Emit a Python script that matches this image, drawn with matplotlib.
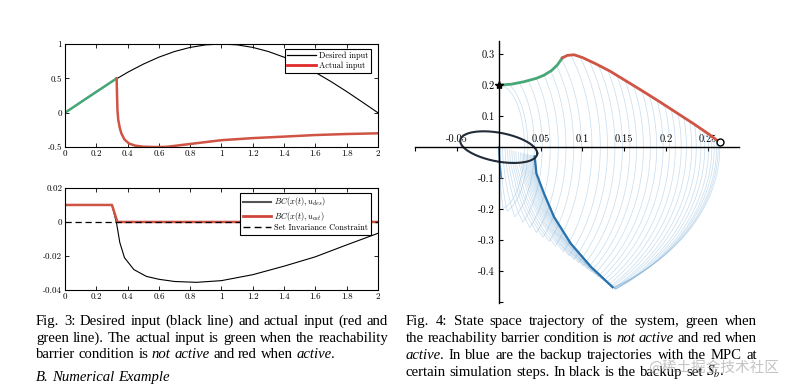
import numpy as np
import matplotlib.pyplot as plt
from matplotlib.lines import Line2D

plt.rcParams['mathtext.fontset'] = 'cm'
plt.rcParams['axes.unicode_minus'] = False

# ---------------- Fig. 3 (top): desired vs actual input ----------------
t_des = [0, 0.1, 0.2, 0.3, 0.4, 0.5, 0.6, 0.7, 0.8, 0.9, 1.0,
         1.1, 1.2, 1.3, 1.4, 1.5, 1.6, 1.7, 1.8, 1.9, 2.0]
u_des = [0, 0.156, 0.309, 0.454, 0.588, 0.707, 0.809, 0.891, 0.951, 0.988, 1.0,
         0.988, 0.951, 0.891, 0.809, 0.707, 0.588, 0.454, 0.309, 0.156, 0.0]
t_free = [0, 0.33]
u_free = [0, 0.5]
t_act = [0.33, 0.332, 0.335, 0.34, 0.35, 0.36, 0.38, 0.41, 0.45, 0.5, 0.58,
         0.65, 0.8, 1.0, 1.2, 1.4, 1.6, 1.8, 2.0]
u_act = [0.5, 0.3, 0.05, -0.1, -0.22, -0.3, -0.39, -0.45, -0.48, -0.495, -0.5,
         -0.497, -0.455, -0.4, -0.37, -0.348, -0.325, -0.31, -0.3]

# ---------------- Fig. 3 (bottom): barrier condition ----------------
t_bc_des = [0, 0.3, 0.33, 0.35, 0.38, 0.44, 0.52, 0.6, 0.7, 0.84, 1.0,
            1.2, 1.4, 1.6, 1.8, 2.0]
bc_des = [0.01, 0.01, -0.001, -0.012, -0.021, -0.028, -0.032, -0.0337, -0.035,
          -0.0355, -0.0345, -0.031, -0.026, -0.0205, -0.0135, -0.0067]
t_bc_act = [0, 0.3, 0.335, 2.0]
bc_act = [0.01, 0.01, 0.0, 0.0]

# ---------------- Fig. 4: state space ----------------
green_x = [0.0, 0.015, 0.03, 0.045, 0.054, 0.063, 0.07, 0.076]
green_y = [0.2, 0.203, 0.211, 0.222, 0.232, 0.247, 0.265, 0.288]
red_x = [0.076, 0.082, 0.09, 0.1, 0.115, 0.133, 0.153, 0.173, 0.193, 0.213, 0.233, 0.252, 0.264]
red_y = [0.288, 0.296, 0.298, 0.289, 0.27, 0.245, 0.212, 0.179, 0.145, 0.11, 0.075, 0.04, 0.015]
# last backup trajectory (dark blue), bottom -> top
last_x = [0.136, 0.11, 0.086, 0.066, 0.054, 0.045, 0.043]
last_y = [-0.452, -0.386, -0.311, -0.225, -0.149, -0.085, -0.03]
# where the backup trajectories leave the system trajectory, and their shape ratio
backup_x0 = [0.0, 0.012, 0.024, 0.035, 0.045, 0.054, 0.062, 0.069, 0.075,
             0.086, 0.097, 0.108, 0.119, 0.13, 0.141, 0.151, 0.161, 0.171, 0.18,
             0.189, 0.198, 0.206, 0.214, 0.221, 0.228, 0.234, 0.24, 0.245, 0.25,
             0.254, 0.257, 0.26, 0.262, 0.264]
backup_ratio = [6.5, 6.2, 5.9, 5.6, 5.3, 5.0, 4.8, 4.6, 4.4,
                4.2, 4.0, 3.85, 3.7, 3.55, 3.4, 3.28, 3.16, 3.05, 2.95,
                2.85, 2.76, 2.68, 2.6, 2.52, 2.45, 2.38, 2.32, 2.26, 2.2,
                2.15, 2.1, 2.06, 2.03, 2.0]
corner_a = (0.05, -0.284)
corner_b = (0.137, -0.452)
# backup set S_b
ell_rx, ell_ry, ell_skew = 0.046, 0.047, 0.02

green = '#47a877'
red = '#cf5444'
dblue = '#2a72ad'
lblue = '#7fb0d6'
cm = 'cmr10'

fig = plt.figure(figsize=(7.94, 3.88), dpi=100)

# --- top-left
ax1 = fig.add_axes([0.0819, 0.621, 0.394, 0.2655])
ax1.plot(t_des, u_des, color='black', lw=0.8)
ax1.plot(t_free, u_free, color=green, lw=1.8)
ax1.plot(t_act, u_act, color=red, lw=1.8)
ax1.set_xlim(0, 2)
ax1.set_ylim(-0.5, 1)
ax1.set_xticks(np.arange(0, 2.01, 0.2))
ax1.set_xticklabels(['0', '0.2', '0.4', '0.6', '0.8', '1', '1.2', '1.4', '1.6', '1.8', '2'],
                    fontfamily=cm, fontsize=6.5)
ax1.set_yticks([-0.5, 0, 0.5, 1])
ax1.set_yticklabels(['-0.5', '0', '0.5', '1'], fontfamily=cm, fontsize=6.5)
h1 = [Line2D([], [], color='black', lw=0.9), Line2D([], [], color='#e02a2a', lw=2)]
leg = ax1.legend(h1, ['Desired input', 'Actual input'], loc='upper right',
                 bbox_to_anchor=(0.978, 0.951), prop={'family': cm, 'size': 6},
                 fancybox=False, framealpha=1, edgecolor='black', handlelength=3.4,
                 borderpad=0.3, labelspacing=0.2, handletextpad=0.4, borderaxespad=0)
leg.get_frame().set_linewidth(0.8)

# --- bottom-left
ax2 = fig.add_axes([0.0819, 0.2526, 0.394, 0.263])
ax2.plot(t_bc_des, bc_des, color='black', lw=0.8)
ax2.plot(t_bc_act, bc_act, color=red, lw=1.8)
ax2.axhline(0, color='black', lw=0.9, ls=(0, (5, 3)))
ax2.set_xlim(0, 2)
ax2.set_ylim(-0.04, 0.02)
ax2.set_xticks(np.arange(0, 2.01, 0.2))
ax2.set_xticklabels(['0', '0.2', '0.4', '0.6', '0.8', '1', '1.2', '1.4', '1.6', '1.8', '2'],
                    fontfamily=cm, fontsize=6.5)
ax2.set_yticks([-0.04, -0.02, 0, 0.02])
ax2.set_yticklabels(['-0.04', '-0.02', '0', '0.02'], fontfamily=cm, fontsize=6.5)
h2 = [Line2D([], [], color='#555555', lw=1.5), Line2D([], [], color='#d0453a', lw=2),
      Line2D([], [], color='black', lw=1, ls=(0, (5, 3)))]
leg2 = ax2.legend(h2, [r'$BC(x(t), u_{des})$', r'$BC(x(t), u_{act})$', 'Set Invariance Constraint'],
                  loc='upper right', bbox_to_anchor=(0.978, 0.951), prop={'family': cm, 'size': 6},
                  fancybox=False, framealpha=1, edgecolor='black', handlelength=3.4,
                  borderpad=0.3, labelspacing=0.15, handletextpad=0.4, borderaxespad=0)
leg2.get_frame().set_linewidth(0.8)

for ax in (ax1, ax2):
    ax.tick_params(direction='in', top=True, right=True, length=3, width=0.6, pad=2)
    for s in ax.spines.values():
        s.set_linewidth(0.8)

# --- right: state space
ax3 = fig.add_axes([0.5227, 0.219, 0.408, 0.675])
traj_x = green_x + red_x[1:]
traj_y = green_y + red_y[1:]


def locus(x):
    slope = (corner_b[1] - corner_a[1]) / (corner_b[0] - corner_a[0])
    return corner_a[1] + slope * (x - corner_a[0])


last_dx = np.array(last_x) - last_x[0]
last_dy = np.array(last_y) - last_y[0]
rel_x = last_dx / last_dx[-1]
rel_y = last_dy / last_dy[-1]

corners = []
arcs = []
for x0, r in zip(backup_x0, backup_ratio):
    y0 = np.interp(x0, traj_x, traj_y)
    A = np.hypot(x0, y0 / r)
    B = r * A
    s0 = np.arctan2(y0 / B, x0 / A)
    s = np.linspace(s0, -np.pi / 2, 800)
    px, py = A * np.cos(s), B * np.sin(s)
    below = py < locus(px)
    i = np.argmax(below) if below.any() else len(s) - 1
    arcs.append((px[:i + 1], py[:i + 1]))
    corners.append((px[i], py[i]))

c_first = corners[0][0]
for (px, py), (cx, cy) in zip(arcs, corners):
    k = np.clip((cx - c_first) / (corner_b[0] - c_first), 0, 1)
    ex, ey = last_x[-1] * k, last_y[-1] * k
    rx = cx + rel_x * (ex - cx)
    ry = cy + rel_y * (ey - cy)
    ax3.plot(np.r_[px, rx], np.r_[py, ry], color=lblue, lw=0.55, alpha=0.4,
             solid_joinstyle='round')

ax3.plot([0, 0.001, 0.003], [0, -0.05, -0.1], color=dblue, lw=1.2, alpha=0.8)
ax3.plot(last_x, last_y, color=dblue, lw=1.6)

te = np.linspace(0, 2 * np.pi, 200)
ax3.plot(ell_rx * np.cos(te), ell_ry * np.sin(te) - ell_skew * np.cos(te),
         color='#222b38', lw=1.5)

ax3.plot(green_x, green_y, color=green, lw=2, solid_joinstyle='round')
ax3.plot(red_x, red_y, color=red, lw=2, solid_joinstyle='round')
ax3.plot(green_x[0], green_y[0], marker='*', color='black', ms=6, zorder=5)
ax3.plot(red_x[-1], red_y[-1], marker='o', mfc='white', mec='black', mew=1, ms=5, zorder=5)

ax3.set_xlim(-0.1, 0.287)
ax3.set_ylim(-0.503, 0.342)
ax3.spines['bottom'].set_visible(False)
ax3.spines['right'].set_visible(False)
ax3.spines['top'].set_position(('data', 0))
ax3.spines['left'].set_position(('data', 0))
for s in ('top', 'left'):
    ax3.spines[s].set_linewidth(1)
ax3.xaxis.set_ticks_position('top')
ax3.set_xticks([-0.1, -0.05, 0.05, 0.1, 0.15, 0.2, 0.25])
ax3.set_xticklabels(['', '-0.05', '0.05', '0.1', '0.15', '0.2', '0.25'], fontfamily=cm, fontsize=7.5)
ax3.set_yticks([-0.5, -0.4, -0.3, -0.2, -0.1, 0.1, 0.2, 0.3])
ax3.set_yticklabels(['', '-0.4', '-0.3', '-0.2', '-0.1', '0.1', '0.2', '0.3'], fontfamily=cm, fontsize=7.5)
ax3.tick_params(axis='x', direction='in', length=3, width=0.8, pad=2)
ax3.tick_params(axis='y', direction='in', length=3, width=0.8, pad=3)
ax3.patch.set_visible(False)

# ---------------- captions ----------------
renderer = fig.canvas.get_renderer()
W, H = 794, 388


def put_line(x0, x1, yb, line, justify, size=10.6):
    words = []
    for tok in line.split(' '):
        parts = tok.split('*')
        segs = [(p, i % 2 == 1) for i, p in enumerate(parts) if p]
        words.append(segs)
    items = []
    total = 0
    for segs in words:
        wtexts = []
        ww = 0
        for j, (txt, it) in enumerate(segs):
            t = fig.text(0, 1 - yb / H, txt, fontsize=size, family='Liberation Serif',
                         style='italic' if it else 'normal', va='baseline',
                         math_fontfamily='stix')
            w = t.get_window_extent(renderer).width
            if it and j < len(segs) - 1:
                w -= 1.0
            wtexts.append((t, w))
            ww += w
        items.append((wtexts, ww))
        total += ww
    if justify and len(items) > 1:
        gap = (x1 - x0 - total) / (len(items) - 1)
    else:
        gap = size * 100 / 72 * 0.25
    x = x0
    for wtexts, ww in items:
        for t, w in wtexts:
            t.set_x(x / W)
            x += w
        x += gap


fig3_lines = ["Fig. 3: Desired input (black line) and actual input (red and",
              "green line). The actual input is green when the reachability",
              "barrier condition is *not* *active* and red when *active*."]
for i, ln in enumerate(fig3_lines):
    put_line(36, 388, 325 + 16.6 * i, ln, i < 2)
put_line(36, 388, 381, "*B.* *Numerical* *Example*", False)

fig4_lines = ["Fig. 4: State space trajectory of the system, green when",
              "the reachability barrier condition is *not* *active* and red when",
              "*active*. In blue are the backup trajectories with the MPC at",
              "certain simulation steps. In black is the backup set $S_b$."]
for i, ln in enumerate(fig4_lines):
    put_line(406, 757, 325 + 16.9 * i, ln, i < 3)

fig.text(648 / W, 1 - 367 / H, '@稀土掘金技术社区', fontsize=10.5, color='#b0b0b0', alpha=0.75,
         family=['Noto Sans CJK SC', 'DejaVu Sans'], va='center')

fig.savefig('out.png', dpi=100)
